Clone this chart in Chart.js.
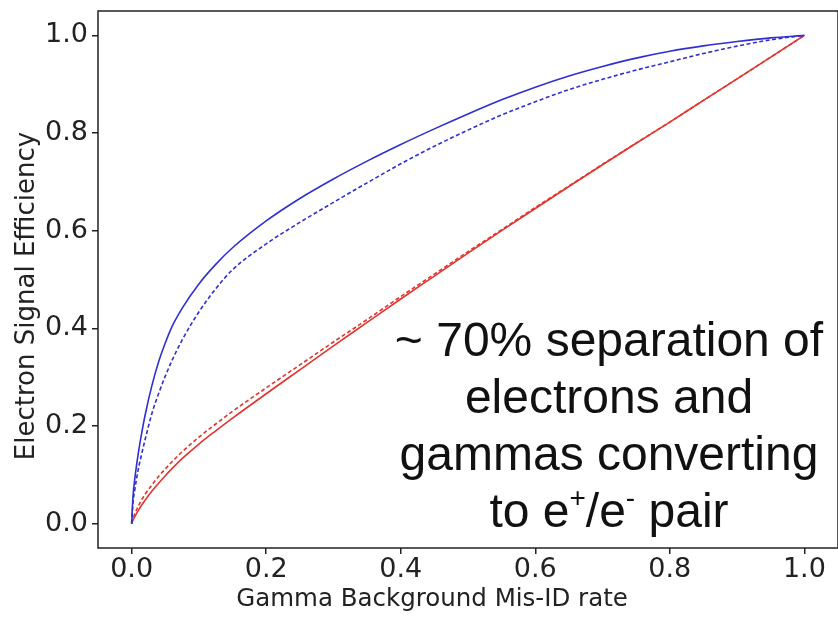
<!DOCTYPE html>
<html>
<head>
<meta charset="utf-8">
<script src="https://cdn.jsdelivr.net/npm/chart.js@4/dist/chart.umd.min.js"></script>
<style>
  html, body { margin: 0; padding: 0; background: #fff; }
  #wrap { width: 838px; height: 617px; position: relative; }
</style>
</head>
<body>
<div id="wrap"><canvas id="roc"></canvas></div>
<script>
// Mis-ID rate grid shared by every curve (denser near zero where the curves bend)
const misIdRate = [0, 0.002, 0.005, 0.01, 0.015, 0.02, 0.03, 0.04, 0.05, 0.06, 0.075, 0.1, 0.125, 0.15,
    0.2, 0.25, 0.3, 0.35, 0.4, 0.45, 0.5, 0.55, 0.6, 0.65, 0.7, 0.75, 0.8, 0.85, 0.9, 0.95, 1.0]

// Signal efficiency per curve
const blueSolid = [0, 0.055, 0.095, 0.145, 0.186, 0.222, 0.282, 0.331, 0.37, 0.4035, 0.441, 0.491, 0.531, 0.565,
    0.62, 0.666, 0.706, 0.7425, 0.7765, 0.8085, 0.839, 0.868, 0.894, 0.917, 0.9365, 0.9535, 0.9675, 0.9785,
    0.9875, 0.995, 1.0]
const blueDashed = [0, 0.042, 0.072, 0.112, 0.143, 0.172, 0.225, 0.266, 0.302, 0.334, 0.376, 0.4335, 0.481, 0.52,
    0.573, 0.617, 0.658, 0.698, 0.737, 0.773, 0.806, 0.837, 0.864, 0.889, 0.91, 0.929, 0.946, 0.963,
    0.978, 0.991, 1.0]
const redSolid = [0, 0.007, 0.015, 0.027, 0.038, 0.048, 0.066, 0.0825, 0.098, 0.1125, 0.133, 0.163, 0.19, 0.216,
    0.266, 0.315, 0.364, 0.412, 0.46, 0.507, 0.554, 0.6, 0.6455, 0.6905, 0.735, 0.779, 0.8225, 0.867,
    0.911, 0.9555, 1.0]
const redDashed = [0, 0.01, 0.021, 0.036, 0.049, 0.06, 0.079, 0.0965, 0.112, 0.1265, 0.147, 0.177, 0.204, 0.23,
    0.278, 0.325, 0.372, 0.418, 0.465, 0.511, 0.557, 0.602, 0.6475, 0.6915, 0.736, 0.7795, 0.8225, 0.867,
    0.911, 0.9555, 1.0]

// Tick values
const xTicks = [0, 0.2, 0.4, 0.6, 0.8, 1.0]
const yTicks = [0, 0.2, 0.4, 0.6, 0.8, 1.0]

// Axis titles and annotation lines
const xTitle = 'Gamma Background Mis-ID rate'
const yTitle = 'Electron Signal Efficiency'
const noteLines = ['~ 70% separation of', 'electrons and', 'gammas converting']

const BLUE = '#2f2fd2'
const RED = '#e2352e'
const AXIS = '#222'

function toPoints(ys) {
    return misIdRate.map((x, i) => ({ x: x, y: ys[i] }))
}

function curve(ys, color, dashed) {
    return {
        data: toPoints(ys),
        borderColor: color,
        borderWidth: 1.6,
        borderDash: dashed ? [4, 2.5] : [],
        pointRadius: 0,
        fill: false,
        cubicInterpolationMode: 'monotone'
    }
}

// Frame round the plot area
const framePlugin = {
    id: 'frame',
    afterDraw(chart) {
        const { ctx, chartArea: a } = chart
        ctx.save()
        ctx.strokeStyle = AXIS
        ctx.lineWidth = 1.5
        ctx.strokeRect(a.left, a.top, a.right - a.left, a.bottom - a.top)
        ctx.restore()
    }
}

// Axis titles (placed by hand, they sit off the axis centre)
const titlesPlugin = {
    id: 'titles',
    afterDraw(chart) {
        const { ctx } = chart
        ctx.save()
        ctx.fillStyle = '#222'
        ctx.textAlign = 'center'
        ctx.textBaseline = 'middle'
        ctx.font = '24.5px "DejaVu Sans", sans-serif'
        ctx.fillText(xTitle, 432, 600)
        ctx.translate(27, 296)
        ctx.rotate(-Math.PI / 2)
        ctx.font = '26px "DejaVu Sans", sans-serif'
        ctx.fillText(yTitle, 0, 0)
        ctx.restore()
    }
}

// Text block in the lower right of the plot
const notePlugin = {
    id: 'note',
    afterDraw(chart) {
        const { ctx } = chart
        const cx = 609
        const base = 356
        const step = 57
        const big = '48px "Liberation Sans", Arial, sans-serif'
        const small = '28px "Liberation Sans", Arial, sans-serif'
        ctx.save()
        ctx.fillStyle = '#111'
        ctx.font = big
        ctx.textBaseline = 'alphabetic'
        ctx.textAlign = 'center'
        noteLines.forEach((t, i) => ctx.fillText(t, cx, base + i * step))

        // last line carries the e+/e- superscripts
        const parts = [
            { t: 'to e', f: big, dy: 0 },
            { t: '+', f: small, dy: -20 },
            { t: '/e', f: big, dy: 0 },
            { t: '-', f: small, dy: -20 },
            { t: ' pair', f: big, dy: 0 }
        ]
        let total = 0
        parts.forEach(p => { ctx.font = p.f; p.w = ctx.measureText(p.t).width; total += p.w })
        let x = cx - total / 2
        const y = base + 3 * step
        ctx.textAlign = 'left'
        parts.forEach(p => {
            ctx.font = p.f
            ctx.fillText(p.t, x, y + p.dy)
            x += p.w
        })
        ctx.restore()
    }
}

const tickFont = { family: '"DejaVu Sans", sans-serif', size: 27 }

new Chart(document.getElementById('roc'), {
    type: 'line',
    data: {
        datasets: [
            curve(blueSolid, BLUE, false),
            curve(blueDashed, BLUE, true),
            curve(redSolid, RED, false),
            curve(redDashed, RED, true)
        ]
    },
    options: {
        responsive: true,
        maintainAspectRatio: false,
        animation: false,
        layout: { padding: { top: 11, right: 0, bottom: 0, left: 0 } },
        plugins: {
            legend: { display: false },
            tooltip: { enabled: false }
        },
        scales: {
            x: {
                type: 'linear',
                min: -0.05,
                max: 1.05,
                afterBuildTicks: s => { s.ticks = xTicks.map(v => ({ value: v })) },
                afterFit: s => { s.height = 69; s.paddingLeft = 0; s.paddingRight = 0 },
                border: { display: false },
                grid: { drawOnChartArea: false, drawTicks: true, tickLength: 6, color: AXIS, lineWidth: 1.5 },
                ticks: { color: '#222', font: tickFont, padding: 0, maxRotation: 0, callback: v => v.toFixed(1) }
            },
            y: {
                type: 'linear',
                min: -0.05,
                max: 1.05,
                afterBuildTicks: s => { s.ticks = yTicks.map(v => ({ value: v })) },
                afterFit: s => { s.width = 98; s.paddingTop = 0; s.paddingBottom = 0 },
                border: { display: false },
                grid: { drawOnChartArea: false, drawTicks: true, tickLength: 6, color: AXIS, lineWidth: 1.5 },
                ticks: { color: '#222', font: tickFont, padding: 4, callback: v => v.toFixed(1) }
            }
        }
    },
    plugins: [framePlugin, titlesPlugin, notePlugin]
})
</script>
</body>
</html>
